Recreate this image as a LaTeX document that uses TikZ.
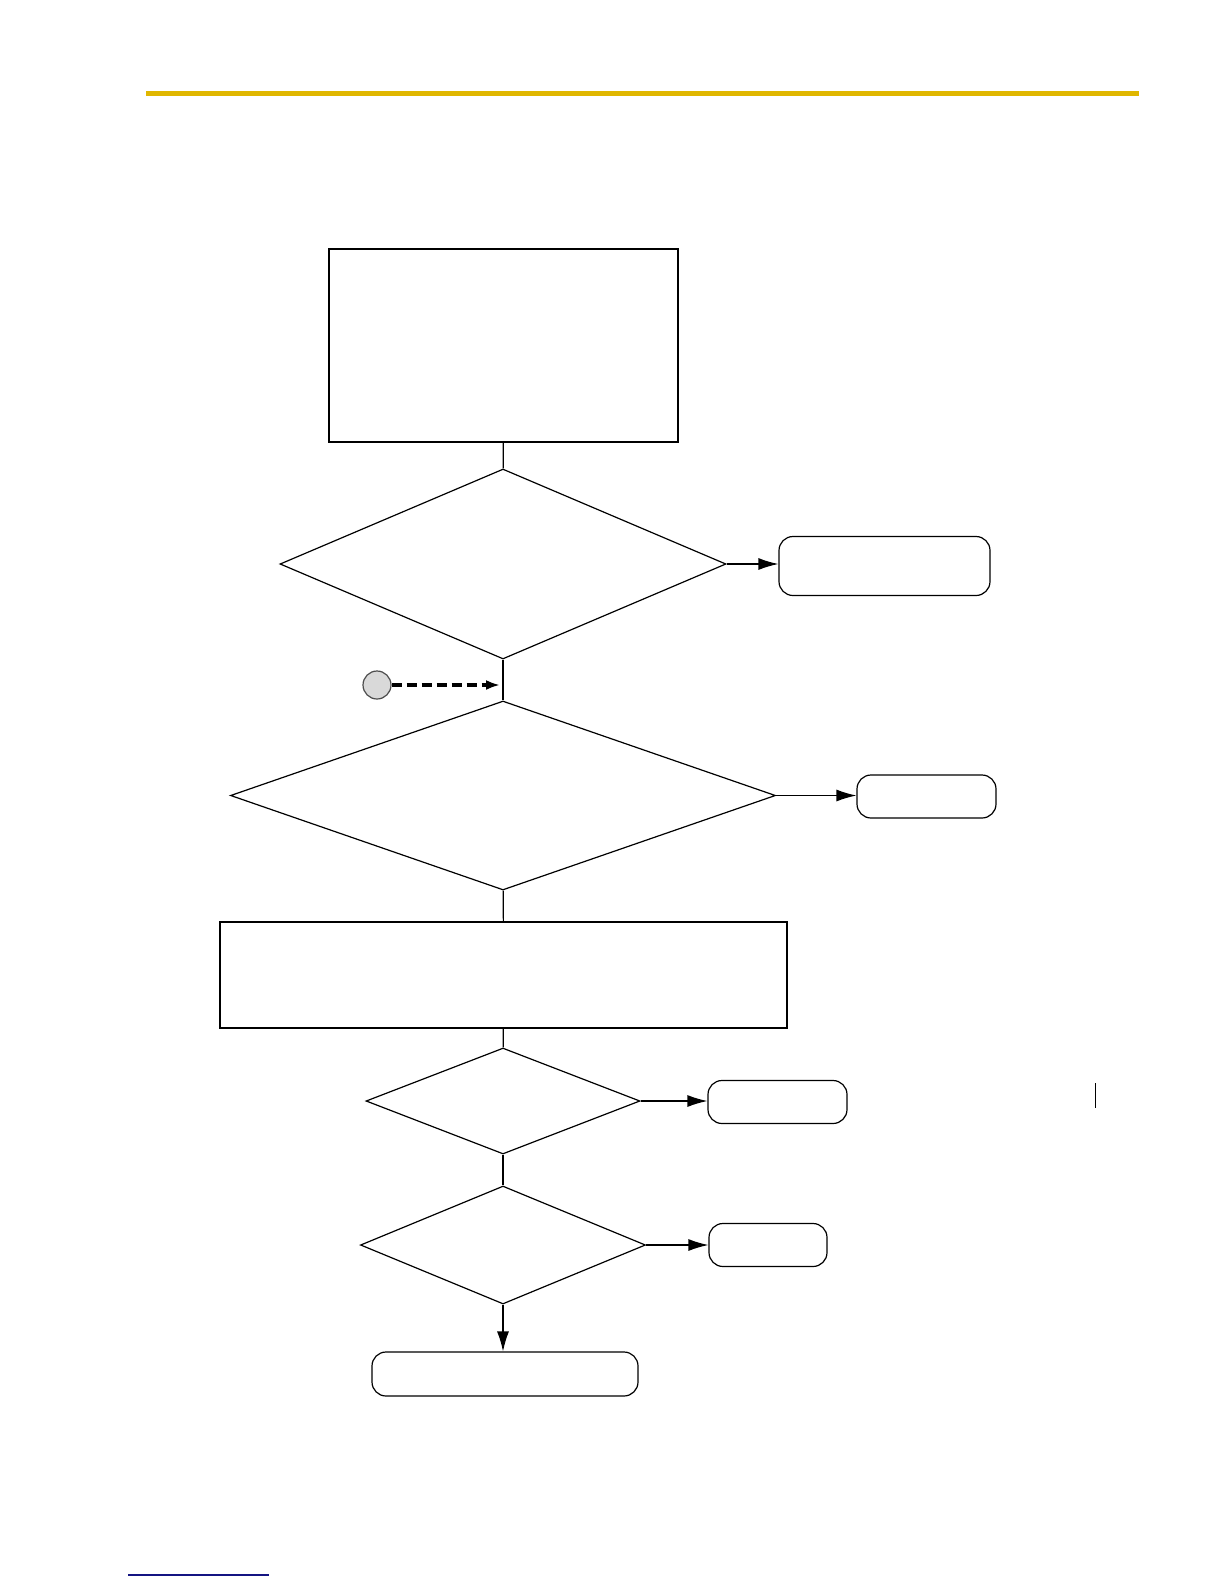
\documentclass[tikz,border=0pt]{standalone}
\usepackage{tikz}
\usetikzlibrary{positioning,arrows.meta,shapes.geometric}
\usepackage{xcolor}
\definecolor{rulegold}{RGB}{224,183,0}
\definecolor{linknavy}{RGB}{20,20,130}

\begin{document}
\begin{tikzpicture}[
  x=0.5pt, y=-0.5pt,
  line width=0.6pt,
  box/.style={draw, inner sep=0pt, minimum width=#1},
  box/.default=100pt,
  term/.style={draw, rounded corners=7pt, inner sep=0pt, minimum height=21.5pt},
  decision/.style={draw, diamond, inner sep=0pt},
  arrow/.style={-{Latex[length=10pt, width=6pt]}},
  link/.style={-, line width=0.6pt}
]
\useasboundingbox (0,0) rectangle (1224,1584);

% page header rule
\draw[rulegold, line width=2.5pt] (146,93.5) -- (1139,93.5);

% main column
\node[box=174.5pt, minimum height=96.5pt] (start) at (503.5,345.5) {};
\node[decision, minimum width=223pt, minimum height=95pt] (q1) at (503,564) {};
\node[term, minimum width=105.5pt, minimum height=29.5pt] (end1) at (884.5,566) {};
\node[decision, minimum width=272.5pt, minimum height=94.5pt] (q2) at (503,795.5) {};
\node[term, minimum width=69.5pt] (end2) at (926.5,796.5) {};
\node[box=283.5pt, minimum height=53pt] (setup) at (503.5,975) {};
\node[decision, minimum width=137pt, minimum height=53pt] (q3) at (503,1101) {};
\node[term, minimum width=69.5pt] (end3) at (777.5,1102) {};
\node[decision, minimum width=142.5pt, minimum height=59pt] (q4) at (503,1245) {};
\node[term, minimum width=59pt] (end4) at (768,1245) {};
\node[term, minimum width=133pt, minimum height=22pt] (done) at (505,1374) {};

% re-entry point
\node[circle, draw=gray!60!black, fill=gray!30, minimum size=14pt, inner sep=0pt] (jump) at (377,685) {};
\coordinate (entry) at (500,685);

\draw[link] (start) -- (q1);
\draw[link] (q1) -- (q2);
\draw[link] (q2) -- (setup);
\draw[link] (setup) -- (q3);
\draw[link] (q3) -- (q4);

\draw[arrow] (q1.east) -- (q1.east -| end1.west);
\draw[arrow] (q2.east) -- (q2.east -| end2.west);
\draw[arrow] (q3.east) -- (q3.east -| end3.west);
\draw[arrow] (q4.east) -- (q4.east -| end4.west);
\draw[arrow] (q4.south) -- (q4.south |- done.north);

\draw[-{Latex[length=7pt, width=5pt]}, line width=2pt, dash pattern=on 5pt off 2.5pt] (jump) -- (entry);

% page footer marks
\coordinate (bartop) at (1095,1083);
\coordinate (barbot) at (1095,1108);
\draw[line width=0.5pt] (bartop) -- (barbot);
\coordinate (ulstart) at (128,1575);
\coordinate (ulend) at (269,1575);
\draw[linknavy, line width=0.75pt] (ulstart) -- (ulend);
\end{tikzpicture}
\end{document}
